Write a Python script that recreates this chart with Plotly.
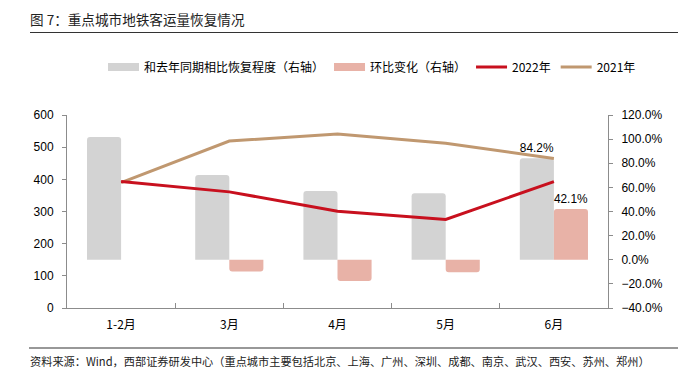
import plotly.graph_objects as go

categories = ["1-2月", "3月", "4月", "5月", "6月"]
recovery_pct = [101.8, 70.3, 57.0, 55.2, 84.2]      # 和去年同期相比恢复程度（右轴）
mom_pct = [None, -9.7, -17.6, -10.4, 42.1]          # 环比变化（右轴）
line_2022 = [393, 361, 301, 275, 393]
line_2021 = [390, 519, 541, 512, 465]
recovery_labels = ["", "", "", "", "84.2%"]
mom_labels = ["", "", "", "", "42.1%"]

GRAY = "#D3D3D3"
PINK = "#E8B2A7"
RED = "#C8101E"
TAN = "#C09870"
CJK = "Noto Sans CJK SC"
NUM = "Liberation Sans"

# the page body has an 8px default margin; compensate so the photo lines up
OFF = 8
PL, PR, PT, PB = 67, 608, 115, 308   # plot area in target pixels
W, H = 686, 385
pw, ph = PR - PL, PB - PT


def px_x(x):
    return (x - PL) / pw


def px_y(y):
    return (PB - y) / ph


fig = go.Figure()

# bars on primary y (percent axis, drawn on the right side)
fig.add_trace(go.Bar(
    x=categories, y=recovery_pct, name="和去年同期相比恢复程度（右轴）",
    marker=dict(color=GRAY, cornerradius=3, line=dict(width=0)),
    text=recovery_labels, textposition="outside", cliponaxis=False,
    textfont=dict(family=NUM, size=13, color="#000"),
    yaxis="y", showlegend=False, offsetgroup="a"))
fig.add_trace(go.Bar(
    x=categories, y=mom_pct, name="环比变化（右轴）",
    marker=dict(color=PINK, cornerradius=3, line=dict(width=0)),
    text=mom_labels, textposition="outside", cliponaxis=False,
    textfont=dict(family=NUM, size=13, color="#000"),
    yaxis="y", showlegend=False, offsetgroup="b"))

# lines on y2 (left axis, overlay so they draw on top)
fig.add_trace(go.Scatter(
    x=categories, y=line_2021, name="2021年", mode="lines",
    line=dict(color=TAN, width=3), yaxis="y2", showlegend=False))
fig.add_trace(go.Scatter(
    x=categories, y=line_2022, name="2022年", mode="lines",
    line=dict(color=RED, width=3), yaxis="y2", showlegend=False))

# legend entries
for nm, col, w in [("和去年同期相比恢复程度（右轴）", GRAY, 8),
                   ("环比变化（右轴）", PINK, 8),
                   ("2022年", RED, 3),
                   ("2021年", TAN, 3)]:
    fig.add_trace(go.Scatter(x=[None], y=[None], mode="lines", name=nm,
                             line=dict(color=col, width=w), yaxis="y2",
                             showlegend=True))

axis_col = "#8C8C8C"
fig.update_layout(
    width=W, height=H,
    margin=dict(l=PL - OFF, r=W - (PR - OFF), t=PT - OFF, b=H - (PB - OFF)),
    paper_bgcolor="white", plot_bgcolor="white",
    barmode="group", bargap=0.37, bargroupgap=0,
    font=dict(family=NUM, size=12, color="#000"),
    xaxis=dict(
        type="category", showgrid=False, showline=True, linecolor=axis_col, linewidth=1,
        ticks="inside", ticklen=5, tickcolor=axis_col, tickson="boundaries",
        ticklabelstandoff=6,
        tickfont=dict(family=CJK, size=12, color="#000"), zeroline=False,
    ),
    yaxis=dict(
        side="right", range=[-40, 120], dtick=20, tickformat=".1f", ticksuffix="%",
        showgrid=False, zeroline=False, showline=True, linecolor=axis_col, linewidth=1,
        ticks="outside", ticklen=4, tickcolor=axis_col, ticklabelstandoff=6,
        tickfont=dict(family=NUM, size=12, color="#000"),
    ),
    yaxis2=dict(
        overlaying="y", side="left", range=[0, 600], dtick=100,
        showgrid=False, zeroline=False, showline=True, linecolor=axis_col, linewidth=1,
        ticks="outside", ticklen=4, tickcolor=axis_col, ticklabelstandoff=6,
        tickfont=dict(family=NUM, size=12, color="#000"),
    ),
    legend=dict(
        orientation="h", x=px_x(372), xanchor="center", y=px_y(67),
        yanchor="middle",
        font=dict(family=CJK, size=12, color="#000"), itemwidth=31,
        bgcolor="rgba(0,0,0,0)", traceorder="normal", tracegroupgap=0,
    ),
    title=dict(
        text="图 7：重点城市地铁客运量恢复情况", x=(30 - OFF) / W, xanchor="left",
        y=1 - 11.8 / H, yanchor="middle", pad=dict(l=0, r=0, t=0, b=0),
        font=dict(family=CJK, size=13.6, color="#222"),
    ),
    shapes=[
        dict(type="line", xref="paper", yref="paper",
             x0=px_x(30), x1=px_x(700),
             y0=px_y(32.5), y1=px_y(32.5),
             line=dict(color="#333", width=1.2)),
        dict(type="line", xref="paper", yref="paper",
             x0=px_x(29), x1=px_x(700),
             y0=px_y(348), y1=px_y(348),
             line=dict(color="#333", width=1.2)),
    ],
    annotations=[
        dict(text="资料来源：Wind，西部证券研发中心（重点城市主要包括北京、上海、广州、深圳、成都、南京、武汉、西安、苏州、郑州）",
             xref="paper", yref="paper", x=px_x(28), y=px_y(361),
             xanchor="left", yanchor="middle", showarrow=False,
             font=dict(family=CJK, size=11.2, color="#222")),
    ],
)

fig.write_html("out.html")
